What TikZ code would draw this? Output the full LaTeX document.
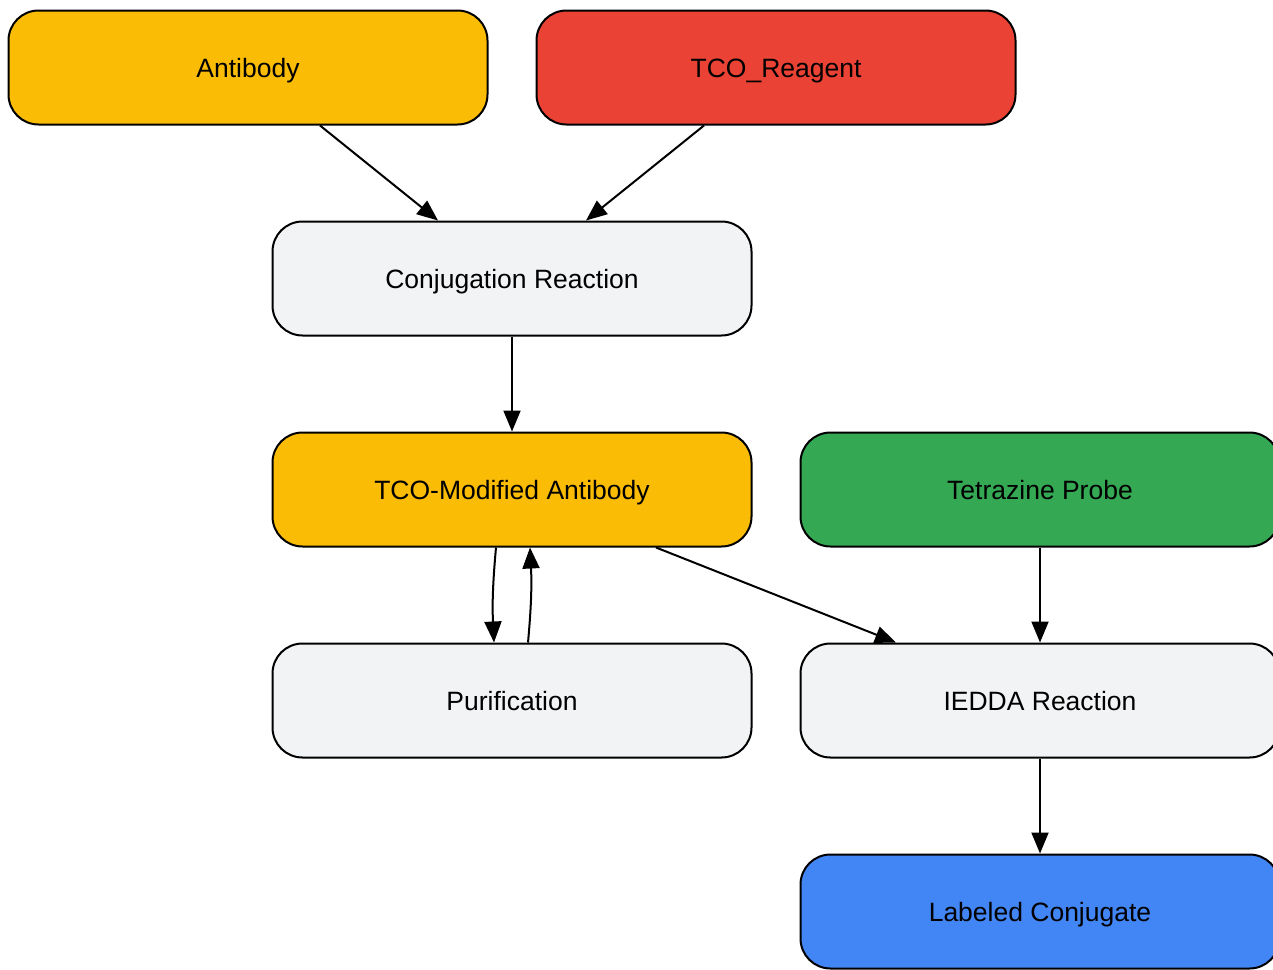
\documentclass[tikz,border=0pt]{standalone}
\usepackage{fontspec}
\setmainfont{Liberation Sans}
\usetikzlibrary{arrows.meta}

\definecolor{ybox}{HTML}{FBBC05}
\definecolor{rbox}{HTML}{EA4335}
\definecolor{gbox}{HTML}{34A853}
\definecolor{bbox}{HTML}{4285F4}
\definecolor{lbox}{HTML}{F1F3F4}

\tikzset{
  stage/.style={draw,
    line width=2pt,
    rounded corners=30pt,
    minimum width=479pt,
    minimum height=114pt,
    text height=19pt,
    text depth=0pt,
    font=\fontsize{26.5}{30}\selectfont},
  flow/.style={line width=2pt,
    -{Triangle[length=21pt,width=17pt]}}
}

\begin{document}
\begin{tikzpicture}[x=1pt,y=-1pt]

\useasboundingbox (0,0) rectangle (1273,969);

% Inputs
\node [stage, fill=ybox] (ab) at (248,67.5) {Antibody};
\node [stage, fill=rbox] (tco) at (776,67.5) {TCO\_Reagent};

% Conjugation
\node [stage, fill=lbox] (conj) at (512,278.5) {Conjugation Reaction};
\node [stage, fill=ybox] (mod) at (512,489.5) {TCO-Modified Antibody};
\node [stage, fill=lbox] (pur) at (512,700.5) {Purification};

% Click step
\node [stage, fill=gbox] (tz) at (1040,489.5) {Tetrazine Probe};
\node [stage, fill=lbox] (iedda) at (1040,700.5) {IEDDA Reaction};
\node [stage, fill=bbox] (lab) at (1040,911.5) {Labeled Conjugate};

% Connectors
\draw [flow] ([xshift=72pt]ab.south) -- ([xshift=-74pt]conj.north);
\draw [flow] ([xshift=-72pt]tco.south) -- ([xshift=74pt]conj.north);
\draw [flow] (conj) -- (mod);
\draw [flow] ([xshift=-16pt]mod.south) to [bend right=4] ([xshift=-18pt]pur.north);
\draw [flow] ([xshift=16pt]pur.north) to [bend right=4] ([xshift=18pt]mod.south);
\draw [flow] ([xshift=144pt]mod.south) -- ([xshift=-144pt]iedda.north);
\draw [flow] (tz) -- (iedda);
\draw [flow] (iedda) -- (lab);

\end{tikzpicture}
\end{document}
